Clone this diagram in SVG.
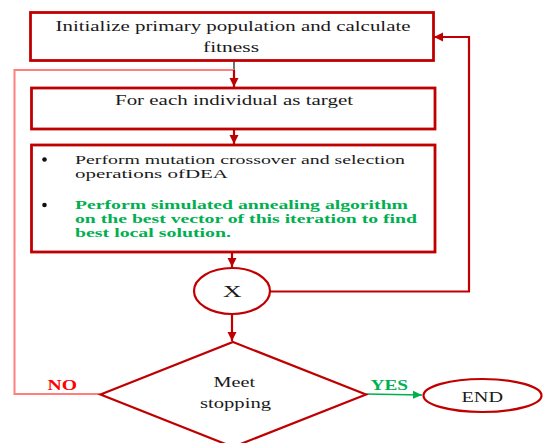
<svg xmlns="http://www.w3.org/2000/svg" width="543" height="443" viewBox="0 0 543 443">
<defs>
<style>
.box{fill:#fff;stroke:#c00000;stroke-width:2.8}
.shape{fill:#fff;stroke:#c00000;stroke-width:2.2}
text{font-family:'Liberation Serif','DejaVu Serif','Times New Roman',serif}
.t{fill:#1a1a1a}
.g{fill:#00b050;font-weight:bold}
.red{stroke:#c00000;stroke-width:2.2;fill:none}
.pink{stroke:#ff7f7f;stroke-width:2;fill:none}
</style>
<marker id="ar" markerUnits="userSpaceOnUse" markerWidth="10" markerHeight="10" viewBox="0 0 10 10" refX="9" refY="5" orient="auto">
<path d="M0,0.5 L9,5 L0,9.5 z" fill="#c00000"/>
</marker>
<marker id="ag" markerUnits="userSpaceOnUse" markerWidth="10" markerHeight="10" viewBox="0 0 10 10" refX="9" refY="5" orient="auto">
<path d="M0,1 L9,5 L0,9 z" fill="#00b050"/>
</marker>
</defs>
<g id="connectors">
<line x1="234" y1="61" x2="234" y2="70" stroke="#444" stroke-width="1.5"/>
<polyline class="pink" points="100,394 14.5,394 14.5,70 234,70"/>
<line class="red" x1="234" y1="70" x2="234" y2="87" marker-end="url(#ar)"/>
<line class="red" x1="234" y1="129" x2="234" y2="144" marker-end="url(#ar)"/>
<line class="red" x1="232" y1="253" x2="232" y2="267" marker-end="url(#ar)"/>
<line class="red" x1="232" y1="314" x2="232" y2="341" stroke-width="2.6" marker-end="url(#ar)"/>
<polyline class="red" points="270,291.5 469,291.5 469,37 434,37" marker-end="url(#ar)"/>
<line x1="366" y1="394" x2="422" y2="395" stroke="#00b050" stroke-width="1.5" marker-end="url(#ag)"/>
<text x="47.5" y="390" font-weight="bold" font-size="14" fill="#ff0000" textLength="29.5" lengthAdjust="spacingAndGlyphs">NO</text>
<text x="370.5" y="390" font-weight="bold" font-size="14" fill="#00b050" textLength="37.5" lengthAdjust="spacingAndGlyphs">YES</text>
</g>
<g id="init">
<rect class="box" x="30.5" y="12.5" width="403" height="48"/>
<text class="t" x="55.5" y="30.5" font-size="15" textLength="355" lengthAdjust="spacingAndGlyphs">Initialize primary population and calculate</text>
<text class="t" x="203" y="51.5" font-size="15" textLength="56" lengthAdjust="spacingAndGlyphs">fitness</text>
</g>
<g id="foreach">
<rect class="box" x="31.5" y="88" width="403.5" height="41"/>
<text class="t" x="115" y="105" font-size="15" textLength="238" lengthAdjust="spacingAndGlyphs">For each individual as target</text>
</g>
<g id="operations">
<rect class="box" x="31.5" y="145" width="403.5" height="107"/>
<circle cx="44.5" cy="159.5" r="2.3" fill="#111"/>
<text class="t" x="75" y="164" font-size="13" textLength="330" lengthAdjust="spacingAndGlyphs">Perform mutation crossover and selection</text>
<text class="t" x="75" y="177.5" font-size="13" textLength="153" lengthAdjust="spacingAndGlyphs">operations ofDEA</text>
<circle cx="44.5" cy="205" r="2.3" fill="#111"/>
<text class="g" x="75" y="209" font-size="13" textLength="333" lengthAdjust="spacingAndGlyphs">Perform simulated annealing algorithm</text>
<text class="g" x="75" y="223" font-size="13" textLength="342" lengthAdjust="spacingAndGlyphs">on the best vector of this iteration to find</text>
<text class="g" x="75" y="236.5" font-size="13" textLength="156" lengthAdjust="spacingAndGlyphs">best local solution.</text>
</g>
<g id="x">
<ellipse class="shape" cx="232" cy="291" rx="38" ry="23"/>
<text class="t" x="223" y="296.5" font-size="16" textLength="18.5" lengthAdjust="spacingAndGlyphs">X</text>
</g>
<g id="decision">
<polygon class="shape" points="233,342 366,394.5 233,447 100.5,394.5" stroke-width="2.6"/>
<text class="t" x="213.5" y="387" font-size="14" textLength="41.5" lengthAdjust="spacingAndGlyphs">Meet</text>
<text class="t" x="200" y="407.5" font-size="14" textLength="71" lengthAdjust="spacingAndGlyphs">stopping</text>
</g>
<g id="end">
<ellipse class="shape" cx="482.5" cy="395.5" rx="59" ry="16.5"/>
<text class="t" x="461.5" y="401.5" font-size="15" textLength="41.5" lengthAdjust="spacingAndGlyphs">END</text>
</g>
</svg>
